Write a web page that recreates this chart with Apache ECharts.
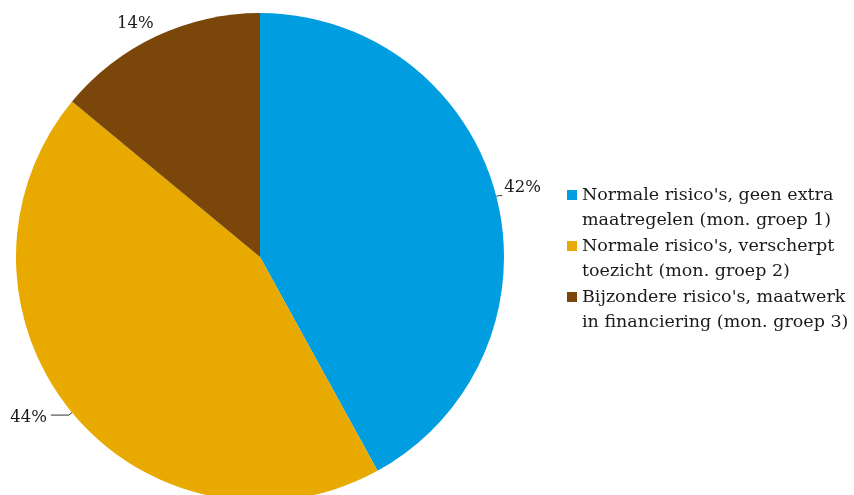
<!DOCTYPE html>
<html>
<head>
<meta charset="utf-8">
<script src="https://cdn.jsdelivr.net/npm/echarts@6/dist/echarts.min.js"></script>
<style>
  html, body { margin: 0; padding: 0; background: #fff; }
  #chart { width: 854px; height: 495px; }
</style>
</head>
<body>
<div id="chart"></div>
<script>
// Monitoring groups and their shares (%)
const groups = [
  "Normale risico's, geen extra\nmaatregelen (mon. groep 1)",
  "Normale risico's, verscherpt\ntoezicht (mon. groep 2)",
  "Bijzondere risico's, maatwerk\nin financiering (mon. groep 3)"
];
const shares = [42, 44, 14];
const colors = ['#009EE0', '#E8A900', '#7A4609'];

const FONT = 'DejaVu Serif';
const LINE_H = 25;
// vertical centre of each legend swatch / first text line
const legendCentres = [195, 246, 297];

// per-slice leader line styling and label nudges
const leaderLines = [
  { show: true, length: 3, length2: 3 },
  { show: true, length: 4, length2: 18 },
  { show: false }
];
const labelNudges = [
  { dx: 0, dy: -8 },
  { dx: -2, dy: 3 },
  { dx: 36, dy: 1 }
];

const chart = echarts.init(document.getElementById('chart'));
chart.setOption({
  animation: false,
  color: colors,
  legend: groups.map((g, i) => ({
    data: [g],
    orient: 'vertical',
    left: 567,
    top: legendCentres[i] - LINE_H * 1.5,
    padding: 0,
    icon: 'rect',
    itemWidth: 10,
    itemHeight: 10,
    selectedMode: false,
    // an empty leading row keeps the swatch level with the first text line
    formatter: name => '{e| }\n' + name.split('\n').map(s => '{t|' + s + '}').join('\n'),
    textStyle: {
      rich: {
        e: { fontSize: 10, lineHeight: LINE_H, height: LINE_H },
        t: { fontFamily: FONT, fontSize: 17.5, color: '#1a1a1a', lineHeight: LINE_H }
      }
    }
  })),
  series: [{
    type: 'pie',
    center: [260, 257],
    radius: 244,
    startAngle: 90,
    clockwise: true,
    avoidLabelOverlap: false,
    data: groups.map((g, i) => ({ name: g, value: shares[i], labelLine: leaderLines[i] })),
    label: {
      show: true,
      position: 'outside',
      formatter: '{c}%',
      fontFamily: FONT,
      fontSize: 16.5,
      color: '#1a1a1a',
      distanceToLabelLine: 2
    },
    labelLine: {
      lineStyle: { color: '#333', width: 1 }
    },
    labelLayout: p => labelNudges[p.dataIndex],
    itemStyle: { borderWidth: 0 }
  }]
});
</script>
</body>
</html>
